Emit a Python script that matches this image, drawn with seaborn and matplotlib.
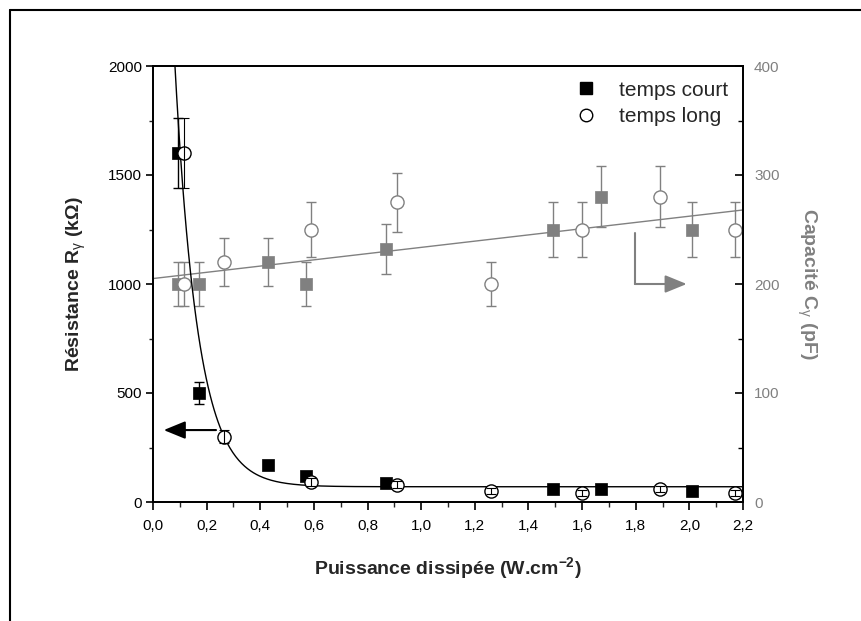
import numpy as np
import pandas as pd
import matplotlib
matplotlib.use("Agg")
import matplotlib.pyplot as plt
from matplotlib.ticker import MultipleLocator, FuncFormatter
from matplotlib.lines import Line2D
import seaborn as sns

# ---- data ----
x_court = [0.093, 0.17, 0.43, 0.57, 0.87, 1.49, 1.67, 2.01]
R_court = [1600, 500, 170, 120, 85, 60, 60, 50]
R_court_err = [160, 50, 17, 12, 9, 6, 6, 5]
C_court = [200, 200, 220, 200, 232, 250, 280, 250]
C_court_err = [20, 20, 22, 20, 23, 25, 28, 25]

x_long = [0.115, 0.265, 0.59, 0.91, 1.26, 1.60, 1.89, 2.17]
R_long = [1600, 300, 90, 80, 50, 40, 60, 40]
R_long_err = [160, 30, 18, 16, 14, 14, 14, 14]
C_long = [200, 220, 250, 275, 200, 250, 280, 250]
C_long_err = [20, 22, 25, 27, 20, 25, 28, 25]

# fit parameters (exponential decay for R, linear for C)
R_fit_y0, R_fit_A, R_fit_t = 70, 5000, 0.086
C_fit_a, C_fit_b = 205, 28.6

GRAY = "#808080"

sns.set_theme(style="white")
plt.rcParams['font.family'] = ['Liberation Sans', 'DejaVu Sans']
plt.rcParams['mathtext.fontset'] = 'custom'
plt.rcParams['mathtext.rm'] = 'Liberation Sans'
plt.rcParams['mathtext.it'] = 'Liberation Sans'
plt.rcParams['mathtext.bf'] = 'Liberation Sans:bold'

fig = plt.figure(figsize=(8.62, 6.21), dpi=100)
ax = fig.add_axes([153/862, 1-502/621, (743-153)/862, (502-66)/621])
ax2 = ax.twinx()

# fit curves
xf = np.linspace(0, 2.2, 600)
fit_R = pd.DataFrame({"x": xf, "y": R_fit_y0 + R_fit_A*np.exp(-xf/R_fit_t)})
fit_C = pd.DataFrame({"x": [0, 2.2], "y": [C_fit_a, C_fit_a + C_fit_b*2.2]})
sns.lineplot(data=fit_R, x="x", y="y", ax=ax, color="black", lw=1.0, zorder=2)
sns.lineplot(data=fit_C, x="x", y="y", ax=ax2, color=GRAY, lw=1.0, zorder=2)

# capacitance (right axis)
ax2.errorbar(x_court, C_court, yerr=C_court_err, fmt="none", ecolor=GRAY,
             elinewidth=1.0, capsize=3.6, capthick=1.0, zorder=3)
ax2.errorbar(x_long, C_long, yerr=C_long_err, fmt="none", ecolor=GRAY,
             elinewidth=1.0, capsize=3.6, capthick=1.0, zorder=3)
sns.scatterplot(x=x_court, y=C_court, ax=ax2, marker="s", s=80, color=GRAY,
                edgecolor=GRAY, linewidth=0.5, zorder=4)
sns.scatterplot(x=x_long, y=C_long, ax=ax2, marker="o", s=90, facecolor="white",
                edgecolor=GRAY, linewidth=1.0, zorder=4)

# resistance (left axis) drawn on top
ax.set_zorder(ax2.get_zorder() + 1)
ax.patch.set_visible(False)
ax.errorbar(x_court, R_court, yerr=R_court_err, fmt="none", ecolor="black",
            elinewidth=1.0, capsize=3.6, capthick=1.0, zorder=3)
sns.scatterplot(x=x_court, y=R_court, ax=ax, marker="s", s=80, color="black",
                edgecolor="black", linewidth=0.5, zorder=4)
sns.scatterplot(x=x_long, y=R_long, ax=ax, marker="o", s=90, facecolor="white",
                edgecolor="black", linewidth=1.0, zorder=4)
ax.errorbar(x_long, R_long, yerr=R_long_err, fmt="none", ecolor="black",
            elinewidth=0.8, capsize=3.6, capthick=0.8, zorder=5)

# axes limits & ticks
ax.set_xlim(0, 2.2)
ax.set_ylim(0, 2000)
ax2.set_ylim(0, 400)
ax.xaxis.set_major_locator(MultipleLocator(0.2))
ax.xaxis.set_minor_locator(MultipleLocator(0.1))
ax.yaxis.set_major_locator(MultipleLocator(500))
ax.yaxis.set_minor_locator(MultipleLocator(250))
ax2.yaxis.set_major_locator(MultipleLocator(100))
ax2.yaxis.set_minor_locator(MultipleLocator(50))
ax.xaxis.set_major_formatter(FuncFormatter(lambda v, p: f"{v:.1f}".replace(".", ",")))

TS = 11
ax.tick_params(axis="x", which="major", direction="out", length=6, width=1.2,
               labelsize=TS, colors="black", bottom=True, top=False, pad=6)
ax.tick_params(axis="x", which="minor", direction="out", length=3.5, width=1.0,
               bottom=True, top=False)
ax.tick_params(axis="y", which="major", direction="out", length=5, width=1.2,
               labelsize=TS, colors="black", left=True, right=False, pad=3)
ax.tick_params(axis="y", which="minor", direction="out", length=3, width=1.0,
               left=True, right=False)
ax2.tick_params(axis="y", which="major", direction="in", length=6, width=1.2,
                labelsize=TS, labelcolor=GRAY, color="black", right=True, pad=8)
ax2.tick_params(axis="y", which="minor", direction="in", length=3.5, width=1.0,
                right=True, color="black")
ax.set_xlabel("")
ax.set_ylabel("")
ax2.set_ylabel("")
for a in (ax, ax2):
    for sp in a.spines.values():
        sp.set_color("black")
        sp.set_linewidth(1.3)
        sp.set_visible(True)

LS = 14
ax.set_xlabel("Puissance dissipée (W.cm$^{\\mathbf{-2}}$)", fontsize=LS,
              fontweight="bold", labelpad=16)
ax.set_ylabel("Résistance R$_{\\mathrm{γ}}$ (kΩ)", fontsize=LS, fontweight="bold",
              labelpad=14)
ax2.set_ylabel("Capacité C$_{\\mathrm{γ}}$ (pF)", fontsize=LS, fontweight="bold",
               color=GRAY, rotation=270, labelpad=28)

# arrows
ax.annotate("", xy=(0.04, 330), xytext=(0.235, 330),
            arrowprops=dict(arrowstyle="-|>,head_length=1.1,head_width=0.45",
                            color="black", lw=1.5, shrinkA=0, shrinkB=0))
ax2.plot([1.797, 1.797], [247, 200], color=GRAY, lw=1.5)
ax2.annotate("", xy=(1.99, 200), xytext=(1.797, 200),
             arrowprops=dict(arrowstyle="-|>,head_length=1.1,head_width=0.45",
                             color=GRAY, lw=1.5, shrinkA=0, shrinkB=0))

# legend
handles = [Line2D([], [], marker="s", ls="none", color="black", markersize=8),
           Line2D([], [], marker="o", ls="none", markerfacecolor="white",
                  markeredgecolor="black", markersize=9)]
ax.legend(handles, ["temps court", "temps long"], loc="upper right",
          bbox_to_anchor=(1.0, 1.0), frameon=False, fontsize=15,
          handletextpad=1.0, labelspacing=0.35, borderaxespad=0.3,
          handlelength=1.2)

# outer frame (left and top lines)
fig.add_artist(Line2D([10/862, 10/862], [0, 1-10/621], transform=fig.transFigure,
                      color="black", lw=1.5))
fig.add_artist(Line2D([10/862, 1], [1-10/621, 1-10/621], transform=fig.transFigure,
                      color="black", lw=1.5))

fig.savefig("out.png", dpi=100, facecolor="white")
